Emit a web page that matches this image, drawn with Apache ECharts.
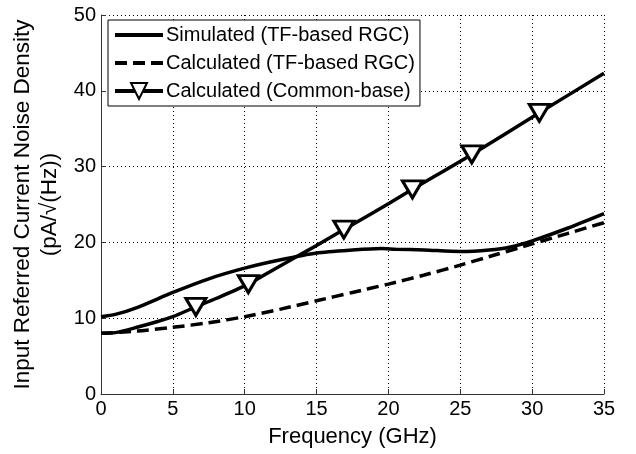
<!DOCTYPE html>
<html>
<head>
<meta charset="utf-8">
<script src="https://cdn.jsdelivr.net/npm/echarts@6/dist/echarts.min.js"></script>
<style>
  html, body { margin: 0; padding: 0; background: #fff; }
  #chart { width: 636px; height: 454px; }
</style>
</head>
<body>
<div id="chart"></div>
<script>
// frequency (GHz) / noise (pA/sqrt(Hz)) pairs
var simX = [0, 1, 2.5, 5, 7.5, 10, 12.5, 15, 17.5, 19.5, 20.5, 22.5, 25, 27, 28.5, 30, 32.5, 35];
var simY = [10.2, 10.5, 11.4, 13.4, 15.2, 16.6, 17.7, 18.6, 19.0, 19.2, 19.1, 19.0, 18.8, 19.0, 19.4, 20.2, 21.9, 23.8];

var calcX = [0, 2.5, 5, 7.5, 10, 12.5, 15, 17.5, 20, 22.5, 25, 27.5, 30, 32.5, 35];
var calcY = [8.0, 8.3, 8.8, 9.4, 10.2, 11.2, 12.3, 13.4, 14.5, 15.7, 17.0, 18.4, 19.8, 21.2, 22.6];

var cbX = [0, 1, 2.5, 4, 5, 6.6, 8, 10.25, 12, 13.6, 15, 16.9, 20, 21.67, 25.8, 30.5, 35];
var cbY = [8.0, 8.1, 8.8, 9.6, 10.2, 11.5, 12.6, 14.5, 16.4, 18.1, 19.6, 21.7, 25.1, 27.0, 31.6, 37.1, 42.3];
var cbMarked = [6.6, 10.25, 16.9, 21.67, 25.8, 30.5];

var xTicks = [0, 5, 10, 15, 20, 25, 30, 35];
var yTicks = [0, 10, 20, 30, 40, 50];

function pairs(xs, ys) {
    var out = [];
    for (var i = 0; i < xs.length; i++) {
        out.push([xs[i], ys[i]]);
    }
    return out;
}

var cbData = [];
for (var i = 0; i < cbX.length; i++) {
    var item = {value: [cbX[i], cbY[i]]};
    if (cbMarked.indexOf(cbX[i]) < 0) {
        item.symbol = 'none';
    }
    cbData.push(item);
}

var font = "'Liberation Sans', Arial, Helvetica, sans-serif";
var gridLine = {show: true, lineStyle: {color: '#000', width: 1, type: [1, 3]}};

var chart = echarts.init(document.getElementById('chart'));
var option = {
    animation: false,
    backgroundColor: '#fff',
    textStyle: {fontFamily: font},
    grid: {left: 101, right: 32, top: 15, bottom: 60, containLabel: false, outerBoundsMode: 'none'},
    legend: {
        orient: 'vertical',
        left: 108,
        top: 20,
        padding: 5,
        itemGap: 8,
        itemWidth: 48,
        itemHeight: 20,
        backgroundColor: '#fff',
        borderColor: '#000',
        borderWidth: 1,
        lineStyle: {width: 4},
        textStyle: {fontFamily: font, fontSize: 20, color: '#000', padding: [0, 0, 0, -2]},
        data: [
            {name: 'Simulated (TF-based RGC)', itemStyle: {opacity: 0}},
            {name: 'Calculated (TF-based RGC)', itemStyle: {opacity: 0}},
            {name: 'Calculated (Common-base)'}
        ]
    },
    xAxis: {
        type: 'value',
        min: xTicks[0],
        max: xTicks[xTicks.length - 1],
        interval: 5,
        name: 'Frequency (GHz)',
        nameLocation: 'middle',
        nameGap: 32,
        nameTextStyle: {fontFamily: font, fontSize: 22, color: '#000'},
        axisLine: {lineStyle: {color: '#333', width: 1}},
        axisTick: {inside: true, length: 5, lineStyle: {color: '#333'}},
        axisLabel: {fontFamily: font, fontSize: 20, color: '#000', margin: 5},
        splitLine: gridLine
    },
    yAxis: {
        type: 'value',
        min: yTicks[0],
        max: yTicks[yTicks.length - 1],
        interval: 10,
        name: 'Input Referred Current Noise Density\n(pA/\u221a(Hz))',
        nameLocation: 'middle',
        nameRotate: 90,
        nameGap: 31,
        nameTextStyle: {fontFamily: font, fontSize: 22.5, color: '#000', lineHeight: 27},
        axisLine: {show: true, lineStyle: {color: '#333', width: 1}},
        axisTick: {show: true, inside: true, length: 5, lineStyle: {color: '#333'}},
        axisLabel: {fontFamily: font, fontSize: 20, color: '#000', margin: 5},
        splitLine: gridLine
    },
    series: [
        {
            name: 'Simulated (TF-based RGC)',
            type: 'line',
            data: pairs(simX, simY),
            smooth: 0.25,
            symbol: 'none',
            z: 3,
            lineStyle: {color: '#000', width: 3.5},
            itemStyle: {color: '#000'}
        },
        {
            name: 'Calculated (TF-based RGC)',
            type: 'line',
            data: pairs(calcX, calcY),
            smooth: 0.25,
            symbol: 'none',
            z: 2,
            lineStyle: {color: '#000', width: 3.5, type: [12, 6]},
            itemStyle: {color: '#000'}
        },
        {
            name: 'Calculated (Common-base)',
            type: 'line',
            data: cbData,
            smooth: 0.25,
            symbol: 'triangle',
            symbolSize: [20, 17],
            symbolRotate: 180,
            showAllSymbol: true,
            z: 4,
            lineStyle: {color: '#000', width: 3.5},
            itemStyle: {color: '#fff', borderColor: '#000', borderWidth: 3}
        }
    ]
};
chart.setOption(option);
</script>
</body>
</html>
